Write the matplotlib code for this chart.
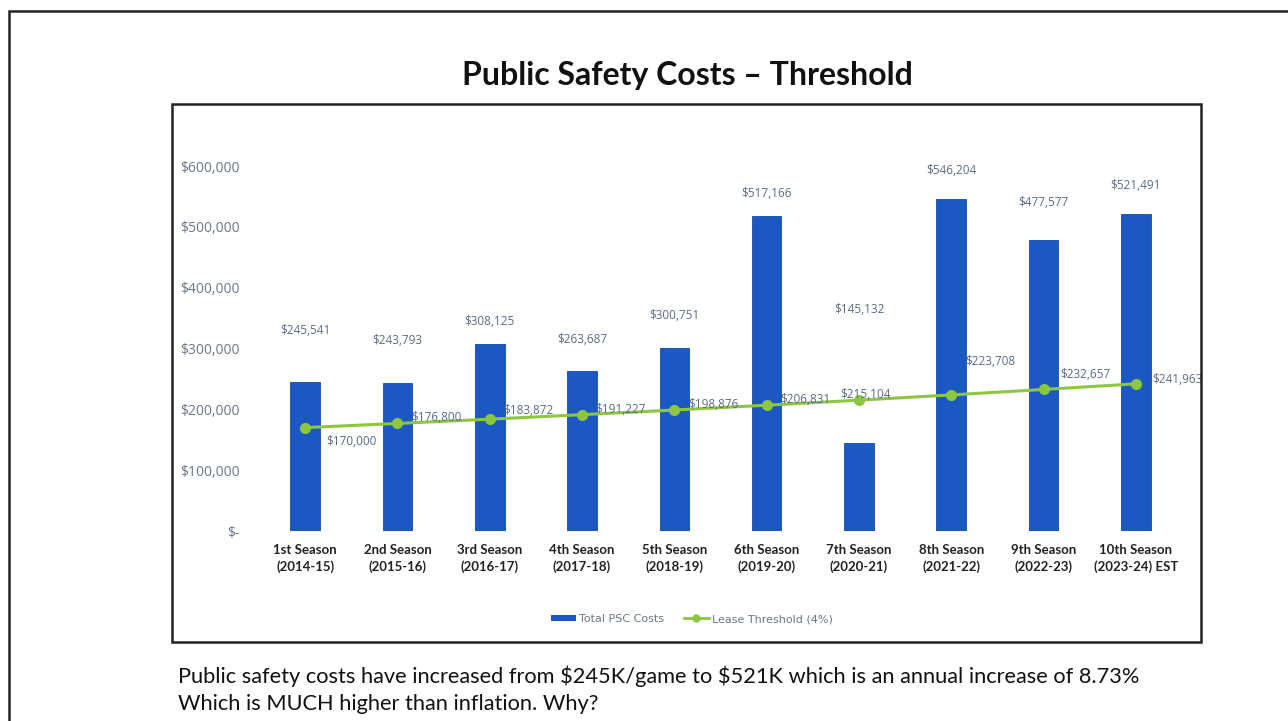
import matplotlib.pyplot as plt
from matplotlib.patches import Rectangle
from matplotlib.lines import Line2D
from matplotlib.patches import Patch

seasons = ['1st Season\n(2014-15)', '2nd Season\n(2015-16)', '3rd Season\n(2016-17)',
           '4th Season\n(2017-18)', '5th Season\n(2018-19)', '6th Season\n(2019-20)',
           '7th Season\n(2020-21)', '8th Season\n(2021-22)', '9th Season\n(2022-23)',
           '10th Season\n(2023-24) EST']
psc_costs = [245541, 243793, 308125, 263687, 300751, 517166, 145132, 546204, 477577, 521491]
threshold = [170000, 176800, 183872, 191227, 198876, 206831, 215104, 223708, 232657, 241963]
ytick_values = [0, 100000, 200000, 300000, 400000, 500000, 600000]
ytick_labels = ['$-', '$100,000', '$200,000', '$300,000', '$400,000', '$500,000', '$600,000']

# label offsets in points (layout only)
bar_label_off = [(0, 32), (0, 26), (0, 11), (0, 18), (0, 19), (0, 12), (0, 91), (0, 16), (0, 23), (0, 16)]
thr_label_off = [(33, -10), (28, 4), (28, 6), (28, 4), (28, 4), (28, 4), (5, 4), (28, 24), (30, 11), (30, 3)]

BLUE = '#1C58C2'
GREEN = '#8DC63F'
LABEL_GRAY = '#5B6B82'

plt.rcParams['text.parse_math'] = False

fig = plt.figure(figsize=(12.88, 7.21), dpi=100)
fig.patch.set_facecolor('white')

# frames
fig.patches.append(Rectangle((9 / 1288, -0.05), 1.2, 1 - 11 / 721 + 0.05, transform=fig.transFigure,
                             fill=False, edgecolor='#222222', linewidth=1.8))
fig.patches.append(Rectangle((172 / 1288, 1 - 642 / 721), (1201 - 172) / 1288, (642 - 104) / 721,
                             transform=fig.transFigure, fill=False, edgecolor='#222222', linewidth=1.8))

fig.text(687 / 1288, 1 - 76 / 721, 'Public Safety Costs \u2013 Threshold', ha='center', va='center',
         fontsize=23, fontweight='bold', family='Lato', color='#111111')

ax = fig.add_axes([259 / 1288, 190 / 721, 923 / 1288, 395.4 / 721])
x = list(range(len(seasons)))
ax.bar(x, psc_costs, width=0.32, color=BLUE, edgecolor='#174CA8', linewidth=0.6, zorder=2)
ax.plot(x, threshold, color=GREEN, linewidth=2.2, marker='o', markersize=7, zorder=3)

for i in x:
    ax.annotate('${:,.0f}'.format(psc_costs[i]), (i, psc_costs[i]), xytext=bar_label_off[i],
                textcoords='offset points', ha='center', va='bottom', fontsize=8.5,
                color=LABEL_GRAY, family='Open Sans')
    ax.annotate('${:,.0f}'.format(threshold[i]), (i, threshold[i]), xytext=thr_label_off[i],
                textcoords='offset points', ha='center', va='center', fontsize=8.5,
                color=LABEL_GRAY, family='Open Sans')

ax.set_xlim(-0.5, 9.5)
ax.set_ylim(0, 650000)
ax.set_xticks(x)
ax.set_xticklabels(seasons, fontsize=9.5, fontweight='bold', color='#222222', family='Lato',
                   linespacing=1.45)
ax.set_yticks(ytick_values)
ax.set_yticklabels(ytick_labels, fontsize=10, color='#6B7785', family='Open Sans')
ax.tick_params(axis='both', length=0)
ax.tick_params(axis='y', pad=14)
ax.tick_params(axis='x', pad=9)
for s in ax.spines.values():
    s.set_visible(False)

handles = [Patch(facecolor=BLUE, label='Total PSC Costs'),
           Line2D([0], [0], color=GREEN, marker='o', markersize=5, linewidth=2, label='Lease Threshold (4%)')]
fig.legend(handles=handles, loc='center', bbox_to_anchor=(692 / 1288, 1 - 619 / 721), ncol=2,
           frameon=False, fontsize=8, labelcolor='#6B7785', handlelength=2.2, handleheight=0.5,
           columnspacing=1.8, handletextpad=0.3)

fig.text(178 / 1288, 1 - 676 / 721,
         'Public safety costs have increased from $245K/game to $521K which is an annual increase of 8.73%',
         ha='left', va='center', fontsize=15.7, family='Lato', color='#111111')
fig.text(178 / 1288, 1 - 704 / 721, 'Which is MUCH higher than inflation. Why?',
         ha='left', va='center', fontsize=15.7, family='Lato', color='#111111')

fig.savefig('out.png', dpi=100)
